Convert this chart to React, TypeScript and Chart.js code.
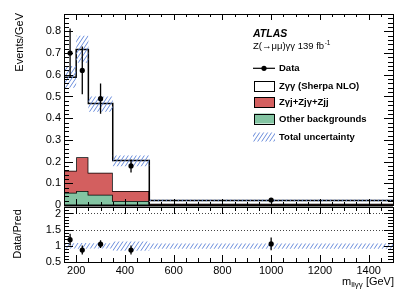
import React, { useEffect, useRef } from 'react';
import { Chart, registerables } from 'chart.js';
Chart.register(...registerables);

// ---------- data ----------
const BIN_EDGES = [150, 200, 250, 350, 500, 1500];
const BIN_CENTERS = [175, 225, 300, 425, 1000];
const OTHER_BKG = [0.057, 0.064, 0.047, 0.019, 0.002];
const ZGJ_BKG = [0.101, 0.156, 0.102, 0.046, 0.004];
const ZGG_SIGNAL = [0.431, 0.496, 0.319, 0.140, 0.015];
const UNC_LOW = [0.54, 0.655, 0.43, 0.178, 0.017];
const UNC_HIGH = [0.64, 0.78, 0.50, 0.228, 0.025];
const DATA_VALUES = [0.70, 0.62, 0.49, 0.18, 0.023];
const DATA_ERR = [0.113, 0.11, 0.07, 0.03, 0.004];
const RATIO_VALUES = [1.19, 0.87, 1.05, 0.87, 1.06];
const RATIO_ERR = [0.18, 0.14, 0.12, 0.14, 0.2];
const RATIO_UNC_LOW = [0.92, 0.91, 0.92, 0.85, 0.91];
const RATIO_UNC_HIGH = [1.08, 1.09, 1.08, 1.13, 1.07];
const X_TICKS = [200, 400, 600, 800, 1000, 1200, 1400];
const MAIN_Y_TICKS = [0, 0.1, 0.2, 0.3, 0.4, 0.5, 0.6, 0.7, 0.8];
const RATIO_Y_TICKS = [0.5, 1, 1.5, 2];

const LEGEND_LABELS = ['Data', 'Z\u03b3\u03b3 (Sherpa NLO)', 'Z\u03b3j+Zj\u03b3+Zjj', 'Other backgrounds', 'Total uncertainty'];

const FONT = "'Liberation Sans', Arial, Helvetica, sans-serif";
const RED = '#d35f5f';
const GREEN = '#83c4a2';
const HATCH = '#6a8ddb';

function histPoints(values: number[]) {
  const pts = values.map((v, i) => ({ x: BIN_EDGES[i], y: v }));
  pts.push({ x: BIN_EDGES[BIN_EDGES.length - 1], y: values[values.length - 1] });
  return pts;
}

function makeHatch(ctx: CanvasRenderingContext2D) {
  const w = 4, h = 6;
  const c = document.createElement('canvas');
  c.width = w; c.height = h;
  const g = c.getContext('2d')!;
  g.strokeStyle = HATCH;
  g.lineWidth = 1;
  g.beginPath();
  for (const dx of [-w, 0, w]) { g.moveTo(dx, h); g.lineTo(dx + w, 0); }
  g.stroke();
  return ctx.createPattern(c, 'repeat')!;
}

function drawFrameAndTicks(chart: any, opts: { yMinorStep: number; yMajorEvery: number; yMin: number; yMax: number; xMajor: number; xMinor: number; yMajorLen: number; yMinorLen: number; xMajorLen: number; xMinorLen: number; frameBottomWidth: number }) {
  const { ctx, chartArea } = chart;
  const { left, right, top, bottom } = chartArea;
  const xs = chart.scales.x, ys = chart.scales.y;
  ctx.save();
  ctx.strokeStyle = '#000';
  ctx.lineWidth = 1;
  ctx.beginPath();
  const n = Math.round((opts.yMax - opts.yMin) / opts.yMinorStep);
  for (let k = 0; k <= n; k++) {
    const v = opts.yMin + k * opts.yMinorStep;
    const y = Math.round(ys.getPixelForValue(v)) + 0.5;
    const kk = Math.round(v / opts.yMinorStep);
    const len = kk % opts.yMajorEvery === 0 ? opts.yMajorLen : opts.yMinorLen;
    ctx.moveTo(left, y); ctx.lineTo(left + len, y);
    ctx.moveTo(right, y); ctx.lineTo(right - len, y);
  }
  for (let v = 150; v <= 1500; v += opts.xMinor) {
    const x = Math.round(xs.getPixelForValue(v)) + 0.5;
    const len = v % opts.xMajor === 0 ? opts.xMajorLen : opts.xMinorLen;
    ctx.moveTo(x, bottom); ctx.lineTo(x, bottom - len);
    ctx.moveTo(x, top); ctx.lineTo(x, top + len);
  }
  ctx.stroke();
  ctx.strokeRect(Math.round(left) + 0.5, Math.round(top) + 0.5, Math.round(right - left), Math.round(bottom - top));
  if (opts.frameBottomWidth > 1) {
    ctx.lineWidth = opts.frameBottomWidth;
    ctx.beginPath();
    ctx.moveTo(left, Math.round(bottom) + 0.5);
    ctx.lineTo(right, Math.round(bottom) + 0.5);
    ctx.stroke();
  }
  ctx.restore();
}

function drawErrorBars(chart: any, values: number[], errs: number[]) {
  const { ctx } = chart;
  const xs = chart.scales.x, ys = chart.scales.y;
  ctx.save();
  ctx.strokeStyle = '#000';
  ctx.lineWidth = 1.3;
  ctx.beginPath();
  values.forEach((v, i) => {
    const x = xs.getPixelForValue(BIN_CENTERS[i]);
    ctx.moveTo(x, ys.getPixelForValue(v + errs[i]));
    ctx.lineTo(x, ys.getPixelForValue(v - errs[i]));
  });
  ctx.stroke();
  ctx.restore();
}

export default function App() {
  const mainRef = useRef<HTMLCanvasElement>(null);
  const ratioRef = useRef<HTMLCanvasElement>(null);

  useEffect(() => {
    document.body.style.margin = '0';
    const mainCanvas = mainRef.current!;
    const ratioCanvas = ratioRef.current!;
    const mctx = mainCanvas.getContext('2d')!;
    const rctx = ratioCanvas.getContext('2d')!;
    const hatchMain = makeHatch(mctx);
    const hatchRatio = makeHatch(rctx);

    const redTop = OTHER_BKG.map((v, i) => v + ZGJ_BKG[i]);
    const total = redTop.map((v, i) => v + ZGG_SIGNAL[i]);

    const histStyle = { stepped: true, borderColor: '#000', borderWidth: 1.5, pointRadius: 0 } as any;

    const mainPlugin = {
      id: 'mainDeco',
      afterDatasetsDraw(chart: any) {
        drawErrorBars(chart, DATA_VALUES, DATA_ERR);
      },
      afterDraw(chart: any) {
        drawFrameAndTicks(chart, { yMinorStep: 0.02, yMajorEvery: 5, yMin: 0, yMax: 0.88, xMajor: 200, xMinor: 50, yMajorLen: 9, yMinorLen: 5, xMajorLen: 6, xMinorLen: 3, frameBottomWidth: 2 });
        const ctx = chart.ctx as CanvasRenderingContext2D;
        ctx.save();
        ctx.fillStyle = '#000';
        ctx.font = `11px ${FONT}`;
        ctx.translate(20, 13);
        ctx.rotate(-Math.PI / 2);
        ctx.textAlign = 'right';
        ctx.textBaseline = 'middle';
        ctx.fillText('Events/GeV', 0, 0);
        ctx.restore();

        ctx.save();
        ctx.fillStyle = '#000';
        ctx.textAlign = 'left';
        ctx.textBaseline = 'alphabetic';
        ctx.font = `italic bold 10.5px ${FONT}`;
        ctx.fillText('ATLAS', 253, 36.5);
        ctx.font = `9.5px ${FONT}`;
        const lumi = 'Z(\u2192\u03bc\u03bc)\u03b3\u03b3 139 fb';
        ctx.fillText(lumi, 253, 49.3);
        const lw = ctx.measureText(lumi).width;
        ctx.font = `6.5px ${FONT}`;
        ctx.fillText('-1', 253 + lw + 0.5, 45);

        const bx = 254, bw = 20, bh = 10, tx = 279;
        const rows = [68.3, 86, 102, 118.5, 137];
        ctx.strokeStyle = '#000';
        ctx.lineWidth = 1.2;
        ctx.beginPath();
        ctx.moveTo(253, rows[0]); ctx.lineTo(275, rows[0]);
        ctx.stroke();
        ctx.beginPath();
        ctx.arc(264, rows[0], 2.6, 0, Math.PI * 2);
        ctx.fill();
        const fills = ['#ffffff', RED, GREEN];
        for (let i = 0; i < 3; i++) {
          const y = rows[i + 1] - bh / 2;
          ctx.fillStyle = fills[i];
          ctx.fillRect(bx, y, bw, bh);
          ctx.lineWidth = 1;
          ctx.strokeStyle = '#000';
          ctx.strokeRect(bx + 0.5, Math.round(y) + 0.5, bw, bh);
        }
        ctx.fillStyle = hatchMain;
        ctx.fillRect(253, rows[4] - 4.5, 22, 9);
        ctx.fillStyle = '#000';
        ctx.font = `bold 9.5px ${FONT}`;
        ctx.textBaseline = 'middle';
        LEGEND_LABELS.forEach((t, i) => ctx.fillText(t, tx, rows[i] + 0.5));
        ctx.restore();
      },
    };

    const main = new Chart(mainCanvas, {
      type: 'line',
      data: {
        datasets: [
          { ...histStyle, data: histPoints(OTHER_BKG), backgroundColor: GREEN, fill: 'origin', order: 10 },
          { ...histStyle, data: histPoints(redTop), backgroundColor: RED, fill: 0, order: 9 },
          { ...histStyle, data: histPoints(total), backgroundColor: '#ffffff', fill: 1, order: 8 },
          { stepped: true, data: histPoints(UNC_LOW), borderWidth: 0, pointRadius: 0, fill: false, order: 7 },
          { stepped: true, data: histPoints(UNC_HIGH), borderWidth: 0, pointRadius: 0, backgroundColor: hatchMain, fill: 3, order: 6 },
          { data: DATA_VALUES.map((v, i) => ({ x: BIN_CENTERS[i], y: v })), showLine: false, pointRadius: 2.6, pointBackgroundColor: '#000', pointBorderWidth: 0, order: 1 },
        ] as any,
      },
      options: {
        animation: false,
        responsive: false,
        devicePixelRatio: 1,
        events: [],
        layout: { padding: { left: 0, top: 14, right: 22, bottom: 93 } },
        plugins: { legend: { display: false }, tooltip: { enabled: false } },
        scales: {
          x: { type: 'linear', min: 150, max: 1500, display: false },
          y: {
            min: 0, max: 0.88,
            grid: { display: false, drawTicks: false },
            border: { display: false },
            afterFit: (s: any) => { s.width = 64; },
            afterBuildTicks: (s: any) => { s.ticks = MAIN_Y_TICKS.map((v) => ({ value: v })); },
            ticks: { padding: 3, color: '#000', font: { family: FONT, size: 11 }, callback: (v: any) => String(v) },
          },
        },
      } as any,
      plugins: [mainPlugin],
    });

    const ratioPlugin = {
      id: 'ratioDeco',
      beforeDatasetsDraw(chart: any) {
        const { ctx, chartArea } = chart;
        const ys = chart.scales.y;
        ctx.save();
        ctx.strokeStyle = '#444';
        ctx.lineWidth = 1;
        ctx.setLineDash([1, 2]);
        ctx.beginPath();
        [1.5, 2].forEach((v) => {
          const y = Math.round(ys.getPixelForValue(v)) + 0.5;
          ctx.moveTo(chartArea.left, y); ctx.lineTo(chartArea.right, y);
        });
        ctx.stroke();
        ctx.restore();
      },
      afterDatasetsDraw(chart: any) {
        drawErrorBars(chart, RATIO_VALUES, RATIO_ERR);
      },
      afterDraw(chart: any) {
        drawFrameAndTicks(chart, { yMinorStep: 0.1, yMajorEvery: 5, yMin: 0.5, yMax: 2.2, xMajor: 200, xMinor: 50, yMajorLen: 9, yMinorLen: 5, xMajorLen: 7, xMinorLen: 4, frameBottomWidth: 1 });
        const ctx = chart.ctx as CanvasRenderingContext2D;
        const { chartArea } = chart;
        ctx.save();
        ctx.fillStyle = '#000';
        ctx.font = `11px ${FONT}`;
        ctx.translate(18, 234);
        ctx.rotate(-Math.PI / 2);
        ctx.textAlign = 'center';
        ctx.textBaseline = 'middle';
        ctx.fillText('Data/Pred', 0, 0);
        ctx.restore();

        ctx.save();
        ctx.fillStyle = '#000';
        ctx.textBaseline = 'alphabetic';
        ctx.textAlign = 'left';
        const base = 284.5;
        ctx.font = `11px ${FONT}`;
        const w1 = ctx.measureText('m').width;
        const w3 = ctx.measureText(' [GeV]').width;
        ctx.font = `8px ${FONT}`;
        const w2 = ctx.measureText('ll\u03b3\u03b3').width;
        let x = chartArea.right + 1 - (w1 + w2 + w3);
        ctx.font = `11px ${FONT}`;
        ctx.fillText('m', x, base);
        x += w1;
        ctx.font = `8px ${FONT}`;
        ctx.fillText('ll\u03b3\u03b3', x, base + 2.5);
        x += w2;
        ctx.font = `11px ${FONT}`;
        ctx.fillText(' [GeV]', x, base);
        ctx.restore();
      },
    };

    const ratio = new Chart(ratioCanvas, {
      type: 'line',
      data: {
        datasets: [
          { stepped: true, data: histPoints(RATIO_UNC_LOW), borderWidth: 0, pointRadius: 0, fill: false, order: 7 },
          { stepped: true, data: histPoints(RATIO_UNC_HIGH), borderWidth: 0, pointRadius: 0, backgroundColor: hatchRatio, fill: 0, order: 6 },
          { data: RATIO_VALUES.map((v, i) => ({ x: BIN_CENTERS[i], y: v })), showLine: false, pointRadius: 2.6, pointBackgroundColor: '#000', pointBorderWidth: 0, order: 1 },
        ] as any,
      },
      options: {
        animation: false,
        responsive: false,
        devicePixelRatio: 1,
        events: [],
        layout: { padding: { left: 0, top: 207, right: 22, bottom: 0 } },
        plugins: { legend: { display: false }, tooltip: { enabled: false } },
        scales: {
          x: {
            type: 'linear', min: 150, max: 1500,
            grid: { display: false, drawTicks: false },
            border: { display: false },
            afterFit: (s: any) => { s.height = 36; },
            afterBuildTicks: (s: any) => { s.ticks = X_TICKS.map((v) => ({ value: v })); },
            ticks: { padding: 2, maxRotation: 0, autoSkip: false, color: '#000', font: { family: FONT, size: 11 }, callback: (v: any) => String(v) },
          },
          y: {
            min: 0.5, max: 2.2,
            grid: { display: false, drawTicks: false },
            border: { display: false },
            afterFit: (s: any) => { s.width = 64; },
            afterBuildTicks: (s: any) => { s.ticks = RATIO_Y_TICKS.map((v) => ({ value: v })); },
            ticks: { padding: 3, color: '#000', font: { family: FONT, size: 11 }, callback: (v: any) => String(v) },
          },
        },
      } as any,
      plugins: [ratioPlugin],
    });

    return () => { main.destroy(); ratio.destroy(); };
  }, []);

  return (
    <div style={{ position: 'relative', width: 415, height: 298, background: '#fff' }}>
      <canvas ref={mainRef} width={415} height={298} style={{ position: 'absolute', left: 0, top: 0 }} />
      <canvas ref={ratioRef} width={415} height={298} style={{ position: 'absolute', left: 0, top: 0 }} />
    </div>
  );
}
